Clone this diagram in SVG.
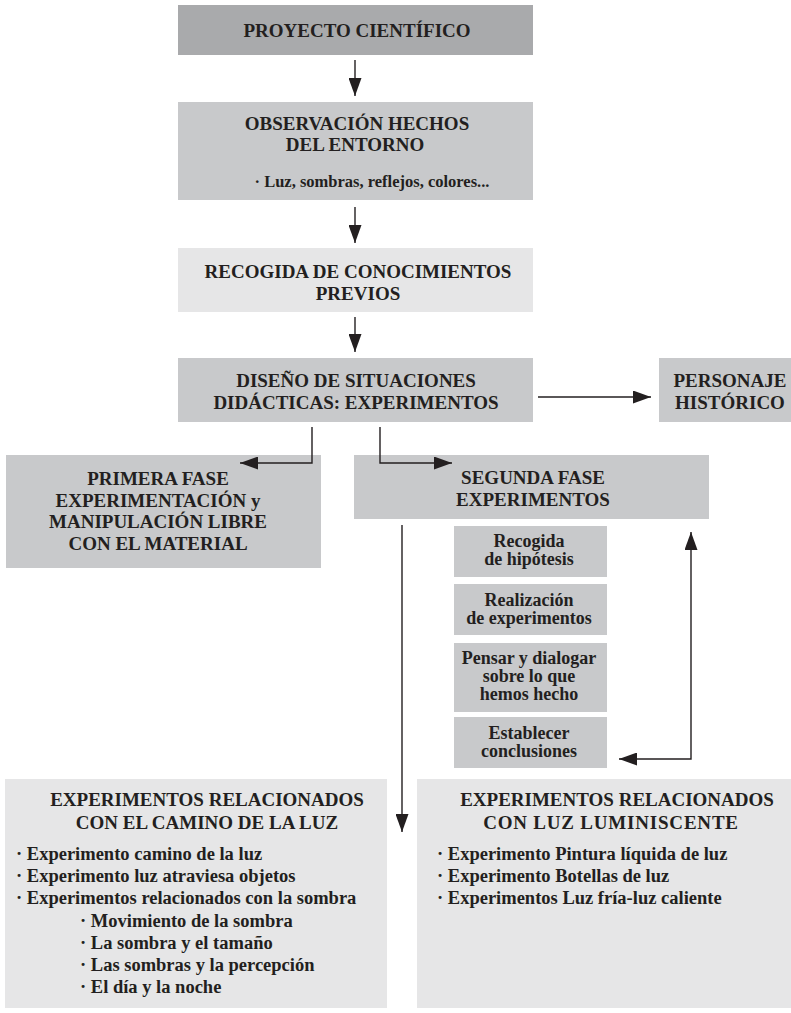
<svg xmlns="http://www.w3.org/2000/svg" width="791" height="1013" viewBox="0 0 791 1013">
<defs>
<marker id="ah" viewBox="0 0 18 13" refX="18" refY="6.5" markerWidth="18" markerHeight="13" markerUnits="userSpaceOnUse" orient="auto-start-reverse"><path d="M0,0 L18,6.5 L0,13 z" fill="#231f20"/></marker>
</defs>
<style>
.dark{fill:#a9aaac}
.mid{fill:#c8c9cb}
.light{fill:#e6e6e7}
text{font-family:"Liberation Serif","Times New Roman",serif;font-weight:bold;fill:#231f20}
.h{font-size:19px;text-anchor:middle}
.s{font-size:18px;text-anchor:middle}
.b{font-size:18.5px}
.l{font-size:16.5px;text-anchor:middle}
.c{fill:none;stroke:#231f20;stroke-width:1.4}
</style>
<rect width="791" height="1013" fill="#ffffff"/>
<g id="proyecto">
<rect class="dark" x="178" y="5" width="355" height="50"/>
<text class="h" x="357" y="37">PROYECTO CIENTÍFICO</text>
</g>
<g id="observacion">
<rect class="mid" x="178" y="102" width="355" height="98"/>
<text class="h" x="357" y="130">OBSERVACIÓN HECHOS</text>
<text class="h" x="355" y="151">DEL ENTORNO</text>
<text class="l" x="372" y="187">· Luz, sombras, reflejos, colores...</text>
</g>
<g id="recogida">
<rect class="light" x="178" y="248" width="355" height="64"/>
<text class="h" x="358" y="278">RECOGIDA DE CONOCIMIENTOS</text>
<text class="h" x="358" y="300">PREVIOS</text>
</g>
<g id="diseno">
<rect class="mid" x="178" y="358" width="355" height="64"/>
<text class="h" x="356" y="387">DISEÑO DE SITUACIONES</text>
<text class="h" x="356" y="409">DIDÁCTICAS: EXPERIMENTOS</text>
</g>
<g id="personaje">
<rect class="mid" x="659" y="358" width="132" height="64"/>
<text class="h" x="730" y="387">PERSONAJE</text>
<text class="h" x="730" y="409">HISTÓRICO</text>
</g>
<g id="primera">
<rect class="mid" x="6" y="455" width="315" height="113"/>
<text class="h" x="158" y="485">PRIMERA FASE</text>
<text class="h" x="158" y="506.5">EXPERIMENTACIÓN y</text>
<text class="h" x="158" y="528">MANIPULACIÓN LIBRE</text>
<text class="h" x="158" y="549.5">CON EL MATERIAL</text>
</g>
<g id="segunda">
<rect class="mid" x="354" y="455" width="355" height="64"/>
<text class="h" x="533" y="484">SEGUNDA FASE</text>
<text class="h" x="533" y="506">EXPERIMENTOS</text>
</g>
<g id="hipotesis">
<rect class="mid" x="454" y="526" width="153" height="51"/>
<text class="s" x="529" y="547">Recogida</text>
<text class="s" x="529" y="565">de hipótesis</text>
</g>
<g id="realizacion">
<rect class="mid" x="454" y="584" width="153" height="51"/>
<text class="s" x="529" y="606">Realización</text>
<text class="s" x="529" y="624">de experimentos</text>
</g>
<g id="pensar">
<rect class="mid" x="454" y="643" width="153" height="69"/>
<text class="s" x="529" y="664">Pensar y dialogar</text>
<text class="s" x="529" y="682">sobre lo que</text>
<text class="s" x="529" y="700">hemos hecho</text>
</g>
<g id="conclusiones">
<rect class="mid" x="454" y="717" width="153" height="51"/>
<text class="s" x="529" y="739">Establecer</text>
<text class="s" x="529" y="757">conclusiones</text>
</g>
<g id="camino">
<rect class="light" x="5" y="779" width="382" height="229"/>
<text class="h" x="207" y="806">EXPERIMENTOS RELACIONADOS</text>
<text class="h" x="207" y="829">CON EL CAMINO DE LA LUZ</text>
<text class="b" x="16" y="860">· Experimento camino de la luz</text>
<text class="b" x="16" y="882">· Experimento luz atraviesa objetos</text>
<text class="b" x="16" y="904">· Experimentos relacionados con la sombra</text>
<text class="b" x="80" y="927">· Movimiento de la sombra</text>
<text class="b" x="80" y="949">· La sombra y el tamaño</text>
<text class="b" x="80" y="971">· Las sombras y la percepción</text>
<text class="b" x="80" y="993">· El día y la noche</text>
</g>
<g id="luminiscente">
<rect class="light" x="417" y="779" width="374" height="229"/>
<text class="h" x="617" y="806">EXPERIMENTOS RELACIONADOS</text>
<text class="h" x="611" y="829" letter-spacing="0.8">CON LUZ LUMINISCENTE</text>
<text class="b" x="437" y="860">· Experimento Pintura líquida de luz</text>
<text class="b" x="437" y="882">· Experimento Botellas de luz</text>
<text class="b" x="437" y="904">· Experimentos Luz fría-luz caliente</text>
</g>
<g id="connectors">
<path class="c" d="M355,60 V96" marker-end="url(#ah)"/>
<path class="c" d="M355,207 V243" marker-end="url(#ah)"/>
<path class="c" d="M355,317 V352" marker-end="url(#ah)"/>
<path class="c" d="M538,397 H651" marker-end="url(#ah)"/>
<path class="c" d="M312,427 V463 H240" marker-end="url(#ah)"/>
<path class="c" d="M380,427 V463 H452" marker-end="url(#ah)"/>
<path class="c" d="M402,525 V832" marker-end="url(#ah)"/>
<path class="c" d="M619,759 H691 V532" marker-start="url(#ah)" marker-end="url(#ah)"/>
</g>
</svg>
